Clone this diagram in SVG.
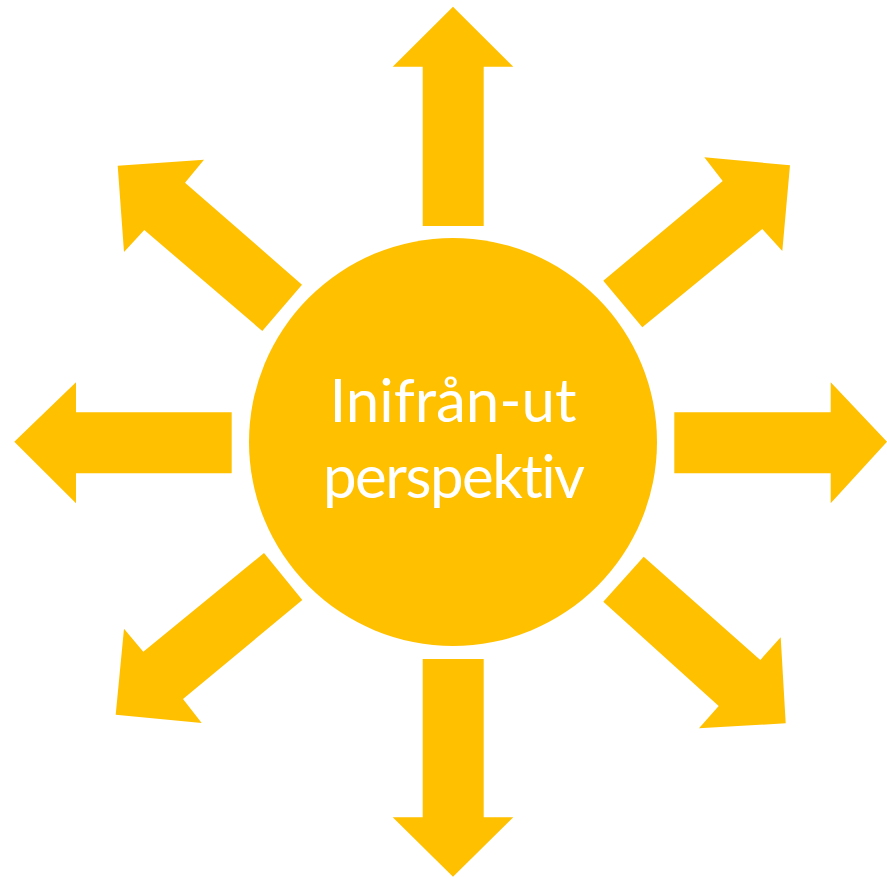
<svg xmlns="http://www.w3.org/2000/svg" width="887" height="877" viewBox="0 0 887 877">
<style>
.a{fill:#FFC000;}
.t{fill:#FFFFFF;font-family:Lato,"Open Sans","Liberation Sans",sans-serif;font-size:60px;text-anchor:middle;font-variant-ligatures:none;font-feature-settings:"liga" 0,"clig" 0;}
</style>
<rect width="887" height="877" fill="#FFFFFF"/>
<g id="connectors">
<polygon class="a" points="422.7,226 422.7,66.7 392.7,66.7 453,6.7 513.3,66.7 483.7,66.7 483.7,226"/>
<polygon class="a" points="422.7,659 422.7,817.3 392.7,817.3 453,876.7 513.3,817.3 483.7,817.3 483.7,659"/>
<polygon class="a" points="674.3,412.3 830.7,412.3 830.7,382.3 887,441.7 830.7,503.3 830.7,473.3 674.3,473.3"/>
<polygon class="a" points="231.7,412.3 76,412.3 76,382.3 14.3,441.7 76,503.3 76,473.3 231.7,473.3"/>
<polygon class="a" points="603.3,280.7 722.7,181 704.3,157.3 790,165.3 782.3,251 762.3,229 642.3,327.3"/>
<polygon class="a" points="302,284.7 185,182.7 204,159.7 117.7,165.7 124,252 144.3,230 262.3,331"/>
<polygon class="a" points="264,553 143.3,651.7 124,628.7 115.7,714.7 201.7,723 183,699 302.3,600"/>
<polygon class="a" points="643.7,556.7 760.3,660 780.7,637.3 785.7,723.3 699,728.3 718.7,706 603.3,601.7"/>
</g>
<g id="center">
<circle class="a" cx="453" cy="442" r="204"/>
<text class="t" x="453" y="421.7">Inifrån-ut</text>
<text class="t" x="454" y="497.7" textLength="262" lengthAdjust="spacing">perspektiv</text>
</g>
</svg>
